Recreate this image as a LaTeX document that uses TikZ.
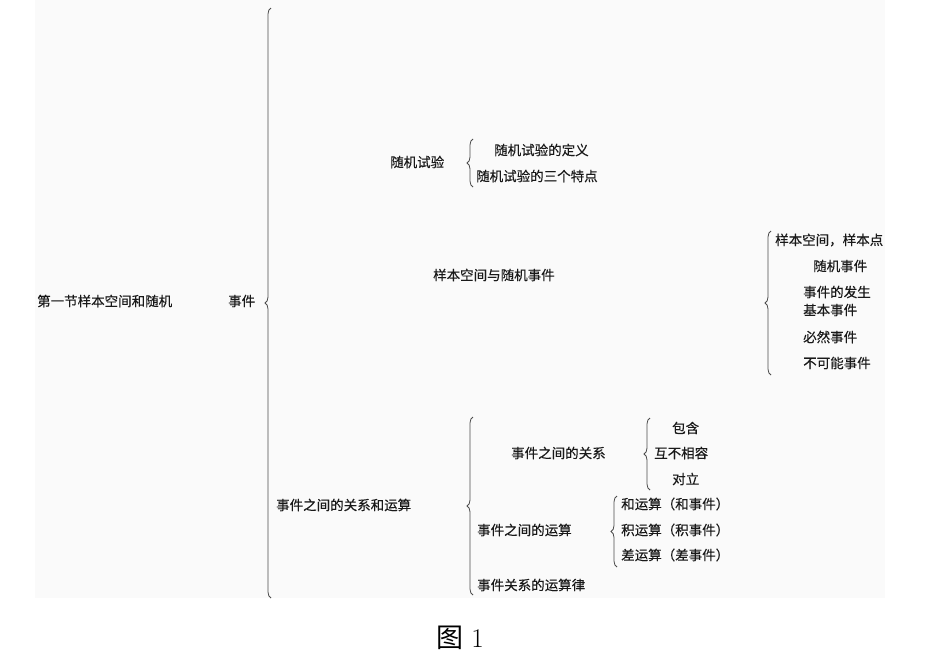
\documentclass[tikz,border=0pt]{standalone}
\usepackage{fontspec}
\newfontfamily\cjk[FakeBold=0.3]{Noto Sans CJK SC}
\newfontfamily\cjkcap{Noto Sans CJK SC}
\usetikzlibrary{decorations.pathreplacing}

\begin{document}
\begin{tikzpicture}[
    x=1pt, y=-1pt,
    item/.style={
        anchor=west,
        inner sep=0pt,
        font=\cjk\fontsize{13.5}{16}\selectfont,
        text=black!90
    },
    curly/.style={decorate, decoration={brace, amplitude=6pt}, line width=0.8pt, draw=black!70},
    caption/.style={anchor=west, inner sep=0pt, font=\fontsize{27}{30}\selectfont}
]
\useasboundingbox (0,0) rectangle (944,657);
\fill[black!2] (35,0) rectangle (885,598);

\node[item] (root) at (37,301) {第一节样本空间和随机};
\node[item] (roottail) at (228,301) {事件};
\draw[curly] (271,598) -- (271,8);

\node[item] (trial) at (390,162) {随机试验};
\draw[curly] (473,187) -- (473,139);
\node[item] (trialdef) at (494,150) {随机试验的定义};
\node[item] (trialfeat) at (476,176) {随机试验的三个特点};

\node[item] (space) at (433,275) {样本空间与随机事件};
\draw[curly] (771,375) -- (771,231);
\node[item] (sp1) at (775,240) {样本空间，样本点};
\node[item] (sp2) at (813,266) {随机事件};
\node[item] (sp3) at (803,292) {事件的发生};
\node[item] (sp4) at (803,310) {基本事件};
\node[item] (sp5) at (803,337) {必然事件};
\node[item] (sp6) at (803,363) {不可能事件};

\node[item] (relop) at (276,505) {事件之间的关系和运算};
\draw[curly] (473,595) -- (473,417);

\node[item] (rel) at (511,453) {事件之间的关系};
\draw[curly] (650,490) -- (650,418);
\node[item] (rel1) at (672,428) {包含};
\node[item] (rel2) at (654,453) {互不相容};
\node[item] (rel3) at (672,479) {对立};

\node[item] (op) at (477,530) {事件之间的运算};
\draw[curly] (617,567) -- (617,496);
\node[item] (op1) at (621,504) {和运算（和事件）};
\node[item] (op2) at (621,530) {积运算（积事件）};
\node[item] (op3) at (621,555) {差运算（差事件）};

\node[item] (law) at (477,585) {事件关系的运算律};

\node[caption] (fig) at (436,638) {{\cjkcap 图} 1};
\end{tikzpicture}
\end{document}
